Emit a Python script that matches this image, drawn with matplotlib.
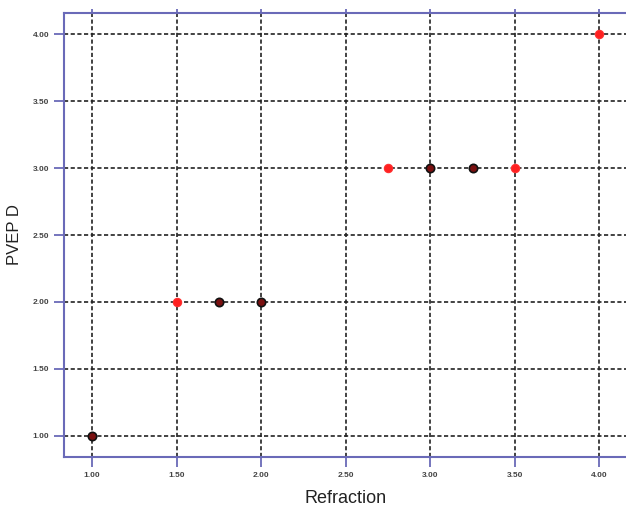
import matplotlib
matplotlib.use("Agg")
import matplotlib.pyplot as plt

# data
red_x = [1.5, 2.75, 3.5, 4.0]
red_y = [2.0, 3.0, 3.0, 4.0]
dark_x = [1.0, 1.75, 2.0, 3.0, 3.25]
dark_y = [1.0, 2.0, 2.0, 3.0, 3.0]
xticks = [1.0, 1.5, 2.0, 2.5, 3.0, 3.5, 4.0]
yticks = [1.0, 1.5, 2.0, 2.5, 3.0, 3.5, 4.0]

plt.rcParams['font.family'] = ['Liberation Sans', 'DejaVu Sans']
fig = plt.figure(figsize=(6.26, 5.08), dpi=100)
ax = fig.add_axes([64/626, 51/508, 1 - 64/626 + 0.002, 444/508])

blue = '#6a6ab8'
ax.set_xlim(0.834, 4.165)
ax.set_ylim(0.843, 4.157)
ax.set_xticks(xticks)
ax.set_yticks(yticks)
ax.set_xticklabels([f"{v:.2f}" for v in xticks])
ax.set_yticklabels([f"{v:.2f}" for v in yticks])
ax.grid(True, color='#222222', linestyle=(0, (2.5, 1.5)), linewidth=1.2)
ax.set_axisbelow(True)
for s in ['left', 'top', 'bottom']:
    ax.spines[s].set_color(blue)
    ax.spines[s].set_linewidth(1.5)
ax.spines['right'].set_visible(False)
ax.tick_params(axis='both', colors=blue, length=7, width=1.3, labelsize=6,
               labelcolor='#444444', direction='out')
ax.tick_params(axis='x', top=True, labeltop=False)
for t in ax.xaxis.get_major_ticks():
    t.tick2line.set_markersize(3)
for lab in ax.get_xticklabels() + ax.get_yticklabels():
    lab.set_fontweight('bold')

ax.scatter(dark_x, dark_y, s=36, facecolor='#7a1010', edgecolor='#111111', linewidth=1.2, zorder=3)
ax.scatter(red_x, red_y, s=36, facecolor='#ff2020', edgecolor='#ff3030', linewidth=0.8, zorder=3)

ax.set_xlabel('Refraction', fontsize=13, labelpad=8, color='#222222')
ax.set_ylabel('PVEP D', fontsize=12, labelpad=8, color='#222222')

fig.savefig('out.png', dpi=100)
